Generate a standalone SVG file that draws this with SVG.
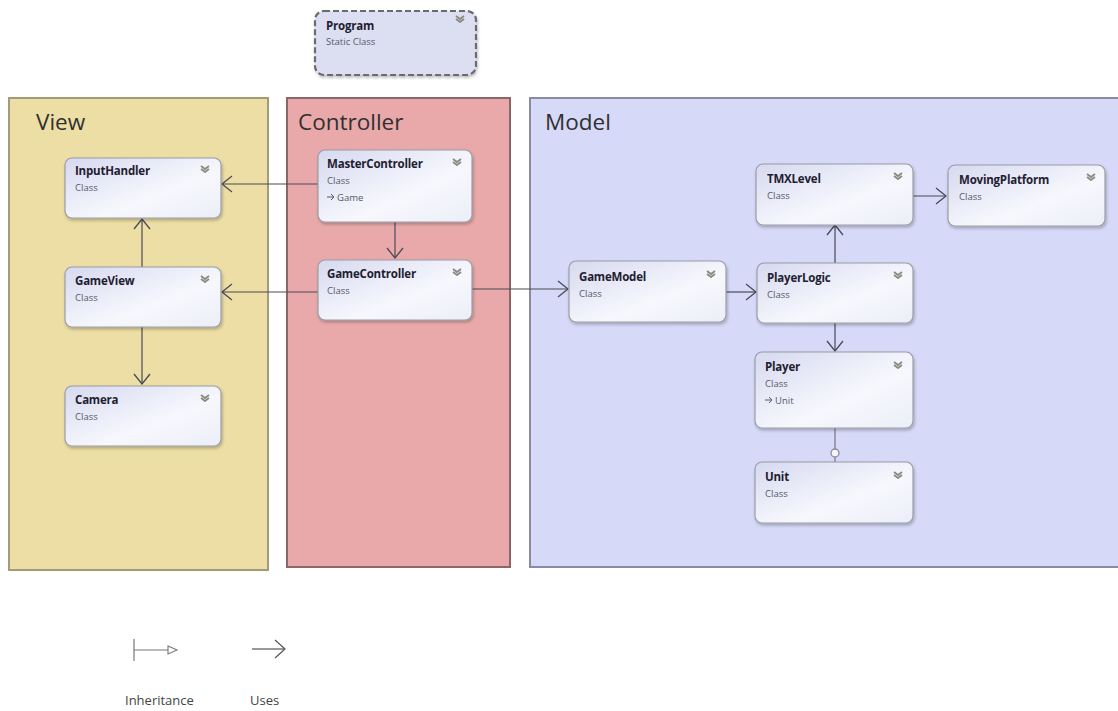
<svg xmlns="http://www.w3.org/2000/svg" width="1118" height="711" viewBox="0 0 1118 711">
<defs>
<linearGradient id="ng" x1="0" y1="0" x2="1" y2="1">
<stop offset="0" stop-color="#d6d9f0"/>
<stop offset="0.6" stop-color="#f7f8fd"/>
<stop offset="1" stop-color="#eceef8"/>
</linearGradient>
<filter id="sh" x="-10%" y="-10%" width="130%" height="140%">
<feDropShadow dx="1" dy="2" stdDeviation="1.5" flood-color="#000" flood-opacity="0.25"/>
</filter>
<marker id="ah" viewBox="0 0 12 18" refX="11" refY="9" markerWidth="12" markerHeight="18" markerUnits="userSpaceOnUse" orient="auto">
<path d="M1,1 L11,9 L1,17" fill="none" stroke="#4a4a55" stroke-width="1.3"/>
</marker>
<symbol id="chev" viewBox="0 0 10 8">
<path d="M1,1 L5,4 L9,1 M1,4 L5,7 L9,4" fill="none" stroke="#8a8a80" stroke-width="1.8"/>
</symbol>
</defs>
<style>
.ttl{font-family:"Open Sans","DejaVu Sans",sans-serif;font-size:11.5px;font-weight:bold;fill:#1e2030;letter-spacing:-0.2px}
.sub{font-family:"Open Sans","DejaVu Sans",sans-serif;font-size:9.5px;fill:#555a68}
.pt{font-family:"Open Sans","DejaVu Sans",sans-serif;font-size:22.5px;fill:#303030}
.lg{font-family:"Open Sans","DejaVu Sans",sans-serif;font-size:13px;fill:#444}
.node{fill:url(#ng);stroke:#9c9ca4;stroke-width:1.2;filter:url(#sh)}
.c{fill:none;stroke:#4a4a55;stroke-width:1.2}
</style>
<rect width="1118" height="711" fill="#ffffff"/>

<g id="panels">
<rect x="9" y="98" width="259" height="472" fill="#ecdea4" stroke="#a39a78" stroke-width="2"/>
<text class="pt" x="36" y="130">View</text>
<rect x="287" y="98" width="223" height="469" fill="#e9a9aa" stroke="#8d6566" stroke-width="2"/>
<text class="pt" x="298" y="130">Controller</text>
<rect x="530" y="98" width="600" height="469" fill="#d6d9f7" stroke="#8a8aa0" stroke-width="2"/>
<text class="pt" x="545" y="130">Model</text>
</g>

<g id="program">
<rect x="315" y="11" width="161" height="64" rx="9" fill="#dcdff2" stroke="#6a6a70" stroke-width="2.2" stroke-dasharray="6,3" filter="url(#sh)"/>
<text class="ttl" x="326" y="30">Program</text>
<text class="sub" x="326" y="45">Static Class</text>
<use href="#chev" x="455" y="15" width="10" height="8"/>
</g>

<g id="connectors">
<line class="c" x1="318" y1="184" x2="222" y2="184" marker-end="url(#ah)"/>
<line class="c" x1="318" y1="292" x2="222" y2="292" marker-end="url(#ah)"/>
<line class="c" x1="142" y1="267" x2="142" y2="219" marker-end="url(#ah)"/>
<line class="c" x1="142" y1="327" x2="142" y2="384" marker-end="url(#ah)"/>
<line class="c" x1="395" y1="222" x2="395" y2="258" marker-end="url(#ah)"/>
<line class="c" x1="472" y1="289" x2="568" y2="289" marker-end="url(#ah)"/>
<line class="c" x1="726" y1="292" x2="756" y2="292" marker-end="url(#ah)"/>
<line class="c" x1="835" y1="263" x2="835" y2="225" marker-end="url(#ah)"/>
<line class="c" x1="913" y1="196" x2="946" y2="196" marker-end="url(#ah)"/>
<line class="c" x1="835" y1="323" x2="835" y2="351" marker-end="url(#ah)"/>
<line x1="835" y1="428" x2="835" y2="449" stroke="#8a8a98" stroke-width="1.5"/>
<circle cx="835" cy="453" r="4" fill="#f4f4fa" stroke="#8a8a98" stroke-width="1.3"/>
<line x1="835" y1="457" x2="835" y2="462" stroke="#8a8a98" stroke-width="1.5"/>
</g>

<g id="InputHandler">
<rect class="node" x="65" y="158" width="156" height="60" rx="7"/>
<text class="ttl" x="75" y="175">InputHandler</text>
<text class="sub" x="75" y="191">Class</text>
<use href="#chev" x="200" y="165" width="10" height="8"/>
</g>
<g id="GameView">
<rect class="node" x="65" y="267" width="156" height="60" rx="7"/>
<text class="ttl" x="75" y="285">GameView</text>
<text class="sub" x="75" y="301">Class</text>
<use href="#chev" x="200" y="275" width="10" height="8"/>
</g>
<g id="Camera">
<rect class="node" x="65" y="386" width="156" height="60" rx="7"/>
<text class="ttl" x="75" y="404">Camera</text>
<text class="sub" x="75" y="420">Class</text>
<use href="#chev" x="200" y="394" width="10" height="8"/>
</g>
<g id="MasterController">
<rect class="node" x="318" y="150" width="154" height="72" rx="7"/>
<text class="ttl" x="327" y="168">MasterController</text>
<text class="sub" x="327" y="184">Class</text>
<path d="M327,197 h6 M331,194 l3,3 l-3,3" fill="none" stroke="#555a68" stroke-width="1"/>
<text class="sub" x="337" y="201">Game</text>
<use href="#chev" x="452" y="158" width="10" height="8"/>
</g>
<g id="GameController">
<rect class="node" x="318" y="260" width="154" height="60" rx="7"/>
<text class="ttl" x="327" y="278">GameController</text>
<text class="sub" x="327" y="294">Class</text>
<use href="#chev" x="452" y="268" width="10" height="8"/>
</g>
<g id="GameModel">
<rect class="node" x="569" y="261" width="157" height="61" rx="7"/>
<text class="ttl" x="579" y="281">GameModel</text>
<text class="sub" x="579" y="297">Class</text>
<use href="#chev" x="706" y="270" width="10" height="8"/>
</g>
<g id="PlayerLogic">
<rect class="node" x="757" y="263" width="156" height="60" rx="7"/>
<text class="ttl" x="767" y="282">PlayerLogic</text>
<text class="sub" x="767" y="298">Class</text>
<use href="#chev" x="893" y="271" width="10" height="8"/>
</g>
<g id="TMXLevel">
<rect class="node" x="756" y="164" width="157" height="61" rx="7"/>
<text class="ttl" x="767" y="183">TMXLevel</text>
<text class="sub" x="767" y="199">Class</text>
<use href="#chev" x="893" y="172" width="10" height="8"/>
</g>
<g id="MovingPlatform">
<rect class="node" x="948" y="165" width="157" height="61" rx="7"/>
<text class="ttl" x="959" y="184">MovingPlatform</text>
<text class="sub" x="959" y="200">Class</text>
<use href="#chev" x="1086" y="173" width="10" height="8"/>
</g>
<g id="Player">
<rect class="node" x="755" y="352" width="158" height="76" rx="7"/>
<text class="ttl" x="765" y="371">Player</text>
<text class="sub" x="765" y="387">Class</text>
<path d="M765,400 h6 M769,397 l3,3 l-3,3" fill="none" stroke="#555a68" stroke-width="1"/>
<text class="sub" x="775" y="404">Unit</text>
<use href="#chev" x="893" y="361" width="10" height="8"/>
</g>
<g id="Unit">
<rect class="node" x="755" y="462" width="158" height="61" rx="7"/>
<text class="ttl" x="765" y="481">Unit</text>
<text class="sub" x="765" y="497">Class</text>
<use href="#chev" x="893" y="471" width="10" height="8"/>
</g>

<g id="legend">
<line x1="134" y1="639" x2="134" y2="661" stroke="#777" stroke-width="1.2"/>
<line x1="134" y1="650" x2="168" y2="650" stroke="#777" stroke-width="1.2"/>
<path d="M168,646 L177,650 L168,654 Z" fill="#fff" stroke="#777" stroke-width="1.1"/>
<line x1="252" y1="649" x2="284" y2="649" stroke="#555" stroke-width="1.2"/>
<path d="M275,640 L285,649 L275,658" fill="none" stroke="#555" stroke-width="1.2"/>
<text class="lg" x="125" y="705">Inheritance</text>
<text class="lg" x="250" y="705">Uses</text>
</g>
</svg>
